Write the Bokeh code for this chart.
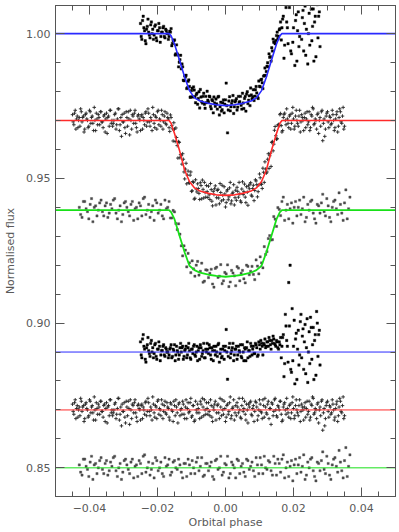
import numpy as np
from bokeh.plotting import figure
from bokeh.models import (LinearAxis, SingleIntervalTicker, CustomJSTickFormatter,
                          Range1d, ColumnDataSource)
from bokeh.embed import file_html
from bokeh.resources import INLINE

# ---------------- data (phases and fluxes of the points in units of 1e-4) ----------------
UNIT = 1e-4

# transit baselines and residual offsets
base_a, base_b, base_c = 1.000, 0.970, 0.939
off_a, off_b, off_c = 0.890, 0.870, 0.850

# model curves (absolute values)
model_phase = [-0.05, -0.0166, -0.016, -0.015, -0.0135, -0.012, -0.0106, -0.0091, -0.0075, -0.005,
               -0.0027, 0.0, 0.0027, 0.005, 0.0075, 0.0091, 0.0106, 0.012, 0.0135, 0.015,
               0.016, 0.0166, 0.05]
model_a = [1.0, 1.0, 0.9992, 0.9964, 0.9907, 0.9849, 0.9803, 0.9778, 0.9767, 0.9759,
           0.9754, 0.9751, 0.9754, 0.9759, 0.9767, 0.9778, 0.9803, 0.9849, 0.9907, 0.9964,
           0.9992, 1.0, 1.0]
model_b = [0.9700, 0.9700, 0.9690, 0.9655, 0.9595, 0.9528, 0.9489, 0.9467, 0.9456, 0.9448,
           0.9443, 0.9441, 0.9443, 0.9448, 0.9456, 0.9467, 0.9489, 0.9528, 0.9595, 0.9655,
           0.9690, 0.9700, 0.9700]
model_c = [0.9390, 0.9390, 0.9383, 0.9359, 0.9301, 0.9244, 0.9198, 0.9183, 0.9174, 0.9167,
           0.9163, 0.9160, 0.9163, 0.9167, 0.9174, 0.9183, 0.9198, 0.9244, 0.9301, 0.9359,
           0.9383, 0.9390, 0.9390]
resid_line_x = [-0.05, 0.05]

# dataset A (black dots)
a_phase = [-250, -246, -242, -238, -234, -230, -226, -222, -218, -214,
           -210, -206, -202, -198, -194, -190, -186, -182, -178, -174,
           -170, -166, -162, -158, -154, -150, -146, -142, -138, -134,
           -130, -126, -122, -118, -114, -110, -106, -102, -98, -94,
           -90, -86, -82, -78, -74, -70, -66, -62, -58, -54,
           -50, -46, -42, -38, -34, -30, -26, -22, -18, -14,
           -10, -6, -2, 2, 6, 10, 14, 18, 22, 26,
           30, 34, 38, 42, 46, 50, 54, 58, 62, 66,
           70, 74, 78, 82, 86, 90, 94, 98, 102, 106,
           110, 114, 118, 122, 126, 130, 134, 138, 142, 146,
           150, 154, 158, 162, 166, 170, 174, 178, 182, 186,
           190, 194, 198, 202, 206, 210, 214, 218, 222, 226,
           230, 234, 238, 242, 246, 250, 254, 258, 262, 266,
           270, 274, 278,
           -248, -244, -240, -236, -232, -228, -224, -220, -216, -212,
           -208, -204, -200, -196, -192, -188, -184, -180, -176, -172,
           -168, -164, -160, -156, -152, -148, -144, -140, -136, -132,
           -128, -124, -120, -116, -112, -108, -104, -100, -96, -92,
           -88, -84, -80, -76, -72, -68, -64, -60, -56, -52,
           -48, -44, -40, -36, -32, -28, -24, -20, -16, -12,
           -8, -4, 0, 4, 8, 12, 16, 20, 24, 28,
           32, 36, 40, 44, 48, 52, 56, 60, 64, 68,
           72, 76, 80, 84, 88, 92, 96, 100, 104, 108,
           112, 116, 120, 124, 128, 132, 136, 140, 144, 148,
           152, 156, 160, 164, 168, 172, 176, 180, 184, 188,
           192, 196, 200, 204, 208, 212, 216, 220, 224, 228,
           232, 236, 240, 244, 248, 252, 256, 260, 264, 268,
           272, 276]
a_flux = [35, -20, 60, 10, -35, 25, 5, -15, 40, 15,
          -5, 30, -25, 10, 20, -10, 5, 25, -15, 10,
          0, -10, 5, -42, -23, -22, -70, -70, -115, -90,
          -122, -115, -163, -150, -190, -165, -183, -219, -189, -184,
          -218, -211, -244, -201, -193, -235, -217, -244, -217, -199,
          -236, -218, -260, -232, -219, -251, -243, -219, -281, -237,
          -263, -229, -244, -171, -343, -233, -267, -241, -214, -253,
          -231, -264, -217, -235, -248, -206, -259, -217, -209, -242,
          -215, -188, -226, -194, -216, -183, -219, -164, -184, -158,
          -190, -145, -145, -113, -115, -82, -95, -60, -30, -35,
          -7, -18, 13, 40, 20, 60, -40, 90, 20, 240,
          300, -70, -30, 110, 45, -95, 75, -10, 130, 55,
          -60, 95, 15, -105, 70, 120, -25, 85, 40, -80,
          100, 60, -45,
          -10, 45, 20, -25, 15, 50, -5, 30, 0, -20,
          25, -15, 10, 35, -30, 5, 20, -10, 15, 0,
          -20, 8, 17, -34, -25, -74, -39, -74, -99, -75,
          -105, -161, -146, -144, -187, -160, -220, -197, -219, -195,
          -239, -206, -224, -257, -219, -240, -206, -258, -239, -230,
          -216, -252, -228, -274, -240, -226, -261, -217, -253, -268,
          -239, -274, -229, -249, -264, -218, -253, -232, -276, -236,
          -225, -254, -238, -217, -261, -240, -224, -268, -201, -230,
          -249, -212, -219, -231, -194, -205, -224, -182, -160, -170,
          -147, -119, -131, -101, -70, -80, -49, -19, -29, -24,
          5, -9, 17, -22, 50, -85, 130, 40, -35, 90,
          -60, 150, 20, -110, 65, 10, -45, 105, -20, 80,
          35, -75, 115, 0, -40, 85, 25, -95, 60, 140,
          -15, 75]
a_resid = [35, -20, 60, 10, -35, 25, 5, -15, 40, 15,
           -5, 30, -25, 10, 20, -10, 5, 25, -15, 10,
           0, -10, 15, -20, 10, 25, -10, 5, -25, 15,
           0, 20, -15, 10, -20, 15, 5, -25, 10, 20,
           -10, 0, -30, 15, 25, -15, 5, -20, 10, 30,
           -5, 15, -25, 5, 20, -10, 0, 25, -35, 10,
           -15, 20, 5, 78, -94, 15, -20, 5, 30, -10,
           10, -25, 20, 0, -15, 25, -30, 10, 15, -20,
           5, 30, -10, 20, -5, 25, -15, 35, 10, 30,
           -10, 25, 15, 35, 20, 40, 10, 30, 45, 25,
           40, 15, 35, 50, 20, 60, -40, 90, 20, 240,
           300, -70, -30, 110, 45, -95, 75, -10, 130, 55,
           -60, 95, 15, -105, 70, 120, -25, 85, 40, -80,
           100, 60, -45,
           -10, 45, 20, -25, 15, 50, -5, 30, 0, -20,
           25, -15, 10, 35, -30, 5, 20, -10, 15, 0,
           -20, 10, 25, -15, 5, -30, 20, 0, -10, 30,
           15, -25, 5, 20, -10, 30, -20, 10, -5, 25,
           -15, 20, 5, -25, 15, -5, 30, -20, 0, 10,
           25, -10, 15, -30, 5, 20, -15, 30, -5, -20,
           10, -25, 20, 0, -15, 30, -5, 15, -30, 10,
           20, -10, 5, 25, -20, 0, 15, -30, 35, 5,
           -15, 20, 10, -5, 30, 15, -10, 25, 40, 20,
           30, 45, 20, 35, 50, 25, 40, 55, 30, 20,
           35, 10, 25, -20, 50, -85, 130, 40, -35, 90,
           -60, 150, 20, -110, 65, 10, -45, 105, -20, 80,
           35, -75, 115, 0, -40, 85, 25, -95, 60, 140,
           -15, 75]

# dataset B (grey plus signs)
b_phase = [-450, -446, -442, -438, -434, -430, -426, -422, -418, -414,
           -410, -406, -402, -398, -394, -390, -386, -382, -378, -374,
           -370, -366, -362, -358, -354, -350, -346, -342, -338, -334,
           -330, -326, -322, -318, -314, -310, -306, -302, -298, -294,
           -290, -286, -282, -278, -274, -270, -266, -262, -258, -254,
           -250, -246, -242, -238, -234, -230, -226, -222, -218, -214,
           -210, -206, -202, -198, -194, -190, -186, -182, -178, -174,
           -170, -166, -162, -158, -154, -150, -146, -142, -138, -134,
           -130, -126, -122, -118, -114, -110, -106, -102, -98, -94,
           -90, -86, -82, -78, -74, -70, -66, -62, -58, -54,
           -50, -46, -42, -38, -34, -30, -26, -22, -18, -14,
           -10, -6, -2, 2, 6, 10, 14, 18, 22, 26,
           30, 34, 38, 42, 46, 50, 54, 58, 62, 66,
           70, 74, 78, 82, 86, 90, 94, 98, 102, 106,
           110, 114, 118, 122, 126, 130, 134, 138, 142, 146,
           150, 154, 158, 162, 166, 170, 174, 178, 182, 186,
           190, 194, 198, 202, 206, 210, 214, 218, 222, 226,
           230, 234, 238, 242, 246, 250, 254, 258, 262, 266,
           270, 274, 278, 282, 286, 290, 294, 298, 302, 306,
           310, 314, 318, 322, 326, 330, 334, 338, 342, 346,
           350,
           -448, -444, -440, -436, -432, -428, -424, -420, -416, -412,
           -408, -404, -400, -396, -392, -388, -384, -380, -376, -372,
           -368, -364, -360, -356, -352, -348, -344, -340, -336, -332,
           -328, -324, -320, -316, -312, -308, -304, -300, -296, -292,
           -288, -284, -280, -276, -272, -268, -264, -260, -256, -252,
           -248, -244, -240, -236, -232, -228, -224, -220, -216, -212,
           -208, -204, -200, -196, -192, -188, -184, -180, -176, -172,
           -168, -164, -160, -156, -152, -148, -144, -140, -136, -132,
           -128, -124, -120, -116, -112, -108, -104, -100, -96, -92,
           -88, -84, -80, -76, -72, -68, -64, -60, -56, -52,
           -48, -44, -40, -36, -32, -28, -24, -20, -16, -12,
           -8, -4, 0, 4, 8, 12, 16, 20, 24, 28,
           32, 36, 40, 44, 48, 52, 56, 60, 64, 68,
           72, 76, 80, 84, 88, 92, 96, 100, 104, 108,
           112, 116, 120, 124, 128, 132, 136, 140, 144, 148,
           152, 156, 160, 164, 168, 172, 176, 180, 184, 188,
           192, 196, 200, 204, 208, 212, 216, 220, 224, 228,
           232, 236, 240, 244, 248, 252, 256, 260, 264, 268,
           272, 276, 280, 284, 288, 292, 296, 300, 304, 308,
           312, 316, 320, 324, 328, 332, 336, 340, 344, 348]
b_resid = [20, -15, 35, 5, -25, 10, 40, -5, 15, -30,
           25, 0, -20, 30, 10, -10, 45, -35, 5, 20,
           -15, 30, -5, 15, -40, 25, 10, -20, 35, 0,
           -10, 20, -30, 5, 40, -15, -55, -5, 25, -45,
           10, 30, -50, 0, 20, -10, 35, -25, 15, 5,
           -35, 20, 10, -15, 30, -5, 25, -20, 0, 45,
           -10, 15, -30, 35, 5, -20, 20, -5, 30, -15,
           10, -25, 25, 0, -40, 15, 35, -10, 20, -20,
           5, 30, -15, 10, -30, 25, -5, 40, -20, 15,
           -35, 0, 20, -10, 30, -25, 10, 35, -15, 5,
           25, -20, 15, -40, 0, 30, -10, 20, -30, 10,
           35, -15, 5, -25, 20, -5, 45, -20, 10, -35,
           15, 25, -10, 0, -30, 40, 5, -15, 20, -45,
           10, 30, -20, 15, -5, 25, -35, 0, 20, -10,
           35, -25, 10, -15, 30, 5, -50, 20, -5, 40,
           -20, 15, 0, 30, -40, 10, 25, -15, 5, -25,
           20, -10, 45, -30, 15, 0, -20, 35, -5, 10,
           -35, 25, 5, -15, 30, -25, 15, 40, -10, 0,
           20, -45, 10, 30, -70, 5, -30, 25, -5, 15,
           -15, 35, 0, -25, 20, -40, 10, 30, -10, 45,
           -20,
           -5, 25, -30, 15, 0, -20, 30, 10, -40, 20,
           5, -25, 35, -10, 15, -35, 0, 25, -15, 10,
           30, -5, -25, 20, 5, -45, 15, 35, -10, -20,
           0, 25, -15, 40, -35, 10, 20, -5, -25, 30,
           -20, 5, 35, -30, 15, 25, -10, -40, 20, 0,
           15, -30, 0, 25, -20, 40, -5, 10, -35, 20,
           -25, 10, 30, -15, 0, 35, -30, 15, -10, 25,
           5, -35, 20, -5, 30, -20, 10, -45, 25, 0,
           -15, 20, -30, 35, 5, -10, 25, -25, 15, -40,
           30, -10, 5, -30, 20, 40, -20, 0, 25, -15,
           -5, 35, -25, 10, 20, -35, 15, -10, 40, -20,
           0, 30, -40, 15, -15, 25, -30, 5, 35, -10,
           -20, 10, 40, -25, 15, -5, 30, -35, 0, 20,
           25, -15, 5, -40, 30, 10, -20, 35, -5, -30,
           15, 40, -10, 20, -30, 5, 25, -20, 35, 0,
           -25, 10, 30, -15, -35, 20, 0, 40, -10, 15,
           -30, 25, 5, -20, 35, -10, 15, -40, 20, 0,
           10, -25, 30, -5, -35, 20, 45, -15, 5, -30,
           25, 0, -20, 35, -10, -55, 15, 30, -25, 10,
           -10, 20, -35, 5, 30, -20, 40, -5, 15, -30]
b_flux = [20, -15, 35, 5, -25, 10, 40, -5, 15, -30,
          25, 0, -20, 30, 10, -10, 45, -35, 5, 20,
          -15, 30, -5, 15, -40, 25, 10, -20, 35, 0,
          -10, 20, -30, 5, 40, -15, -55, -5, 25, -45,
          10, 30, -50, 0, 20, -10, 35, -25, 15, 5,
          -35, 20, 10, -15, 30, -5, 25, -20, 0, 45,
          -10, 15, -30, 35, 5, -20, 20, -5, 30, -15,
          10, -25, 19, -18, -71, -30, -26, -87, -73, -129,
          -122, -115, -178, -168, -219, -175, -216, -178, -243, -214,
          -269, -237, -219, -252, -215, -271, -238, -214, -265, -246,
          -227, -273, -239, -295, -256, -226, -267, -238, -288, -249,
          -224, -274, -254, -284, -239, -264, -214, -278, -248, -292,
          -241, -231, -265, -254, -283, -212, -246, -265, -229, -293,
          -236, -215, -262, -224, -242, -209, -264, -223, -198, -221,
          -165, -214, -168, -178, -115, -122, -159, -73, -82, -21,
          -65, -16, -18, 24, -40, 10, 25, -15, 5, -25,
          20, -10, 45, -30, 15, 0, -20, 35, -5, 10,
          -35, 25, 5, -15, 30, -25, 15, 40, -10, 0,
          20, -45, 10, 30, -70, 5, -30, 25, -5, 15,
          -15, 35, 0, -25, 20, -40, 10, 30, -10, 45,
          -20,
          -5, 25, -30, 15, 0, -20, 30, 10, -40, 20,
          5, -25, 35, -10, 15, -35, 0, 25, -15, 10,
          30, -5, -25, 20, 5, -45, 15, 35, -10, -20,
          0, 25, -15, 40, -35, 10, 20, -5, -25, 30,
          -20, 5, 35, -30, 15, 25, -10, -40, 20, 0,
          15, -30, 0, 25, -20, 40, -5, 10, -35, 20,
          -25, 10, 30, -15, 0, 35, -30, 15, -10, 25,
          5, -38, 10, -29, -8, -73, -59, -130, -76, -118,
          -151, -134, -202, -148, -189, -215, -189, -245, -211, -272,
          -205, -247, -235, -273, -225, -206, -268, -249, -225, -266,
          -257, -218, -279, -245, -236, -292, -242, -268, -218, -278,
          -259, -229, -299, -244, -274, -233, -288, -253, -222, -267,
          -276, -245, -214, -278, -237, -256, -220, -284, -248, -226,
          -220, -258, -235, -277, -205, -222, -246, -185, -219, -235,
          -179, -143, -182, -134, -166, -113, -76, -105, -34, -53,
          -63, -14, 20, -18, -35, 20, 0, 40, -10, 15,
          -30, 25, 5, -20, 35, -10, 15, -40, 20, 0,
          10, -25, 30, -5, -35, 20, 45, -15, 5, -30,
          25, 0, -20, 35, -10, -55, 15, 30, -25, 10,
          -10, 20, -35, 5, 30, -20, 40, -5, 15, -30]

# dataset C (sparse grey dots)
c_phase = [-430, -422, -414, -406, -398, -390, -382, -374, -366, -358,
           -350, -342, -334, -326, -318, -310, -302, -294, -286, -278,
           -270, -262, -254, -246, -238, -230, -222, -214, -206, -198,
           -190, -182, -174, -166, -158, -150, -142, -134, -126, -118,
           -110, -102, -94, -86, -78, -70, -62, -54, -46, -38,
           -30, -22, -14, -6, 2, 10, 18, 26, 34, 42,
           50, 58, 66, 74, 82, 90, 98, 106, 114, 122,
           130, 138, 146, 154, 162, 170, 178, 186, 194, 202,
           210, 218, 226, 234, 242, 250, 258, 266, 274, 282,
           290, 298, 306, 314, 322, 330, 338, 346, 354, 362,
           -426, -418, -410, -402, -394, -386, -378, -370, -362, -354,
           -346, -338, -330, -322, -314, -306, -298, -290, -282, -274,
           -266, -258, -250, -242, -234, -226, -218, -210, -202, -194,
           -186, -178, -170, -162, -154, -146, -138, -130, -122, -114,
           -106, -98, -90, -82, -74, -66, -58, -50, -42, -34,
           -26, -18, -10, -2, 6, 14, 22, 30, 38, 46,
           54, 62, 70, 78, 86, 94, 102, 110, 118, 126,
           134, 142, 150, 158, 166, 174, 182, 190, 198, 206,
           214, 222, 230, 238, 246, 254, 262, 270, 278, 286,
           294, 302, 310, 318, 326, 334, 342, 350, 358, 366]
c_resid = [10, -25, 30, -5, 20, -40, 15, 0, 35, -20,
           25, -10, 5, 40, -30, 15, -15, 30, -5, 20,
           -35, 10, 25, -20, 45, 0, -25, 15, 35, -10,
           20, -30, 5, 30, -15, 25, -5, 10, -35, 15,
           30, -20, 0, 20, -10, 35, -25, 15, 5, -30,
           25, -5, 40, -15, 10, -35, 20, 0, 30, -20,
           15, -30, 25, 5, -10, 35, -20, 10, 40, -5,
           20, -25, 15, 30, -15, 45, 0, -30, 25, 10,
           -20, 35, 5, -40, 20, 30, -10, -45, 15, 25,
           -5, 40, -25, 10, 35, -15, 20, -35, 70, 5,
           -15, 30, 5, -30, 40, 10, -20, 25, -5, 15,
           -25, 20, 35, -10, 0, -40, 25, 10, -20, 30,
           5, -30, 15, 40, -15, 20, -5, -35, 25, 0,
           -20, 35, 10, -25, 20, 0, 30, -15, 15, -30,
           10, 25, -20, 35, 5, -30, 15, -10, 20, -40,
           30, 0, -25, 15, 40, -20, 10, -35, 25, 5,
           -15, 30, -5, 20, -30, 10, 35, -20, 0, 25,
           -10, 40, -25, 15, 30, -35, 20, 5, -45, 30,
           10, -15, 45, -25, 0, 35, -30, 20, -10, 55,
           -20, 15, -40, 30, 5, 60, -10, 25, -30, 45]
c_flux = [10, -25, 30, -5, 20, -40, 15, 0, 35, -20,
          25, -10, 5, 40, -30, 15, -15, 30, -5, 20,
          -35, 10, 25, -20, 45, 0, -25, 15, 35, -10,
          20, -30, 5, 30, -27, -6, -67, -83, -158, -138,
          -149, -216, -203, -190, -224, -183, -245, -207, -218, -255,
          -201, -232, -188, -244, -220, -264, -208, -227, -195, -244,
          -208, -251, -194, -211, -222, -172, -220, -182, -126, -143,
          -88, -102, -31, 9, -19, 45, 0, -30, 25, 10,
          -20, 35, 5, -40, 20, 30, -10, -45, 15, 25,
          -5, 40, -25, 10, 35, -15, 20, -35, 70, 5,
          -15, 30, 5, -30, 40, 10, -20, 25, -5, 15,
          -25, 20, 35, -10, 0, -40, 25, 10, -20, 30,
          5, -30, 15, 40, -15, 20, -5, -35, 25, 0,
          -20, 35, 10, -27, -1, -46, -47, -123, -123, -196,
          -182, -175, -228, -177, -211, -249, -206, -233, -204, -266,
          -197, -228, -254, -215, -189, -248, -217, -261, -200, -218,
          -237, -190, -223, -194, -240, -193, -161, -199, -153, -98,
          -103, -22, -56, 3, 30, -35, 20, 5, -45, 30,
          10, -15, 45, -25, 0, 35, -30, 20, -10, 55,
          -20, 15, -40, 30, 5, 60, -10, 25, -30, 45]

x_tick_interval = 0.02
y_tick_interval = 0.05

# ---------------- figure ----------------
AX = "#555555"
TXT = "#5a5a5a"
FONT = "DejaVu Sans"

p = figure(width=399, height=532, output_backend="svg", toolbar_location=None,
           x_range=Range1d(-0.05, 0.05), y_range=Range1d(0.8401, 1.0097),
           min_border_left=55, min_border_right=4, min_border_top=5, min_border_bottom=36,
           background_fill_color="white", border_fill_color="white")
p.xgrid.visible = False
p.ygrid.visible = False
p.outline_line_color = AX

xt = SingleIntervalTicker(interval=x_tick_interval, num_minor_ticks=4)
yt = SingleIntervalTicker(interval=y_tick_interval, num_minor_ticks=5)
fmt = CustomJSTickFormatter(code="""
var t = Math.abs(tick) < 1e-9 ? 0 : tick;
return (t < 0 ? '\\u2212' : '') + Math.abs(t).toFixed(2);
""")
blank = CustomJSTickFormatter(code="return '';")


def style(ax, ticker, labels=True):
    ax.ticker = ticker
    ax.major_tick_in = 9
    ax.major_tick_out = 0
    ax.minor_tick_in = 5
    ax.minor_tick_out = 0
    ax.axis_line_color = AX
    ax.major_tick_line_color = AX
    ax.minor_tick_line_color = AX
    if labels:
        ax.formatter = fmt
        ax.major_label_text_font = FONT
        ax.major_label_text_font_size = "11px"
        ax.major_label_text_color = TXT
        ax.axis_label_text_font = FONT
        ax.axis_label_text_font_size = "11px"
        ax.axis_label_text_font_style = "normal"
        ax.axis_label_text_color = TXT
    else:
        ax.formatter = blank
        ax.major_label_text_color = None
        ax.major_label_text_font_size = "1px"
        ax.major_label_standoff = 0
        ax.axis_label = None


style(p.xaxis[0], xt)
p.xaxis[0].axis_label = "Orbital phase"
p.xaxis[0].major_label_standoff = 7
p.xaxis[0].axis_label_standoff = 1
style(p.yaxis[0], yt)
p.yaxis[0].axis_label = "Normalised flux"
p.yaxis[0].major_label_standoff = 5
p.yaxis[0].axis_label_standoff = 6

ax_r = LinearAxis()
style(ax_r, yt, labels=False)
p.add_layout(ax_r, "right")
ax_t = LinearAxis()
style(ax_t, xt, labels=False)
p.add_layout(ax_t, "above")

# ---------------- scatter points ----------------
pa = np.array(a_phase) * UNIT
pb = np.array(b_phase) * UNIT
pc = np.array(c_phase) * UNIT

src_a = ColumnDataSource(dict(x=pa, y=base_a + np.array(a_flux) * UNIT, r=off_a + np.array(a_resid) * UNIT))
src_b = ColumnDataSource(dict(x=pb, y=base_b + np.array(b_flux) * UNIT, r=off_b + np.array(b_resid) * UNIT))
src_c = ColumnDataSource(dict(x=pc, y=base_c + np.array(c_flux) * UNIT, r=off_c + np.array(c_resid) * UNIT))

for col in ("y", "r"):
    p.scatter("x", col, source=src_b, marker="cross", size=3.6, line_color="#262626",
              line_width=1, line_alpha=0.9)
    p.scatter("x", col, source=src_c, marker="square", size=2.2, fill_color="#4a4a4a",
              line_color="#4a4a4a", line_width=0.4)
    p.scatter("x", col, source=src_a, marker="square", size=2.4, fill_color="black",
              line_color="black", line_width=0.4)

# ---------------- model lines ----------------
p.line(model_phase, model_a, line_color="#2a2aff", line_width=1.6)
p.line(model_phase, model_b, line_color="#ff2a2a", line_width=1.6)
p.line(model_phase, model_c, line_color="#18e018", line_width=1.8)
p.line(resid_line_x, [off_a, off_a], line_color="#2a2aff", line_width=1)
p.line(resid_line_x, [off_b, off_b], line_color="#ff2a2a", line_width=1)
p.line(resid_line_x, [off_c, off_c], line_color="#18e018", line_width=1)

open("out.html", "w").write(file_html(p, INLINE))
